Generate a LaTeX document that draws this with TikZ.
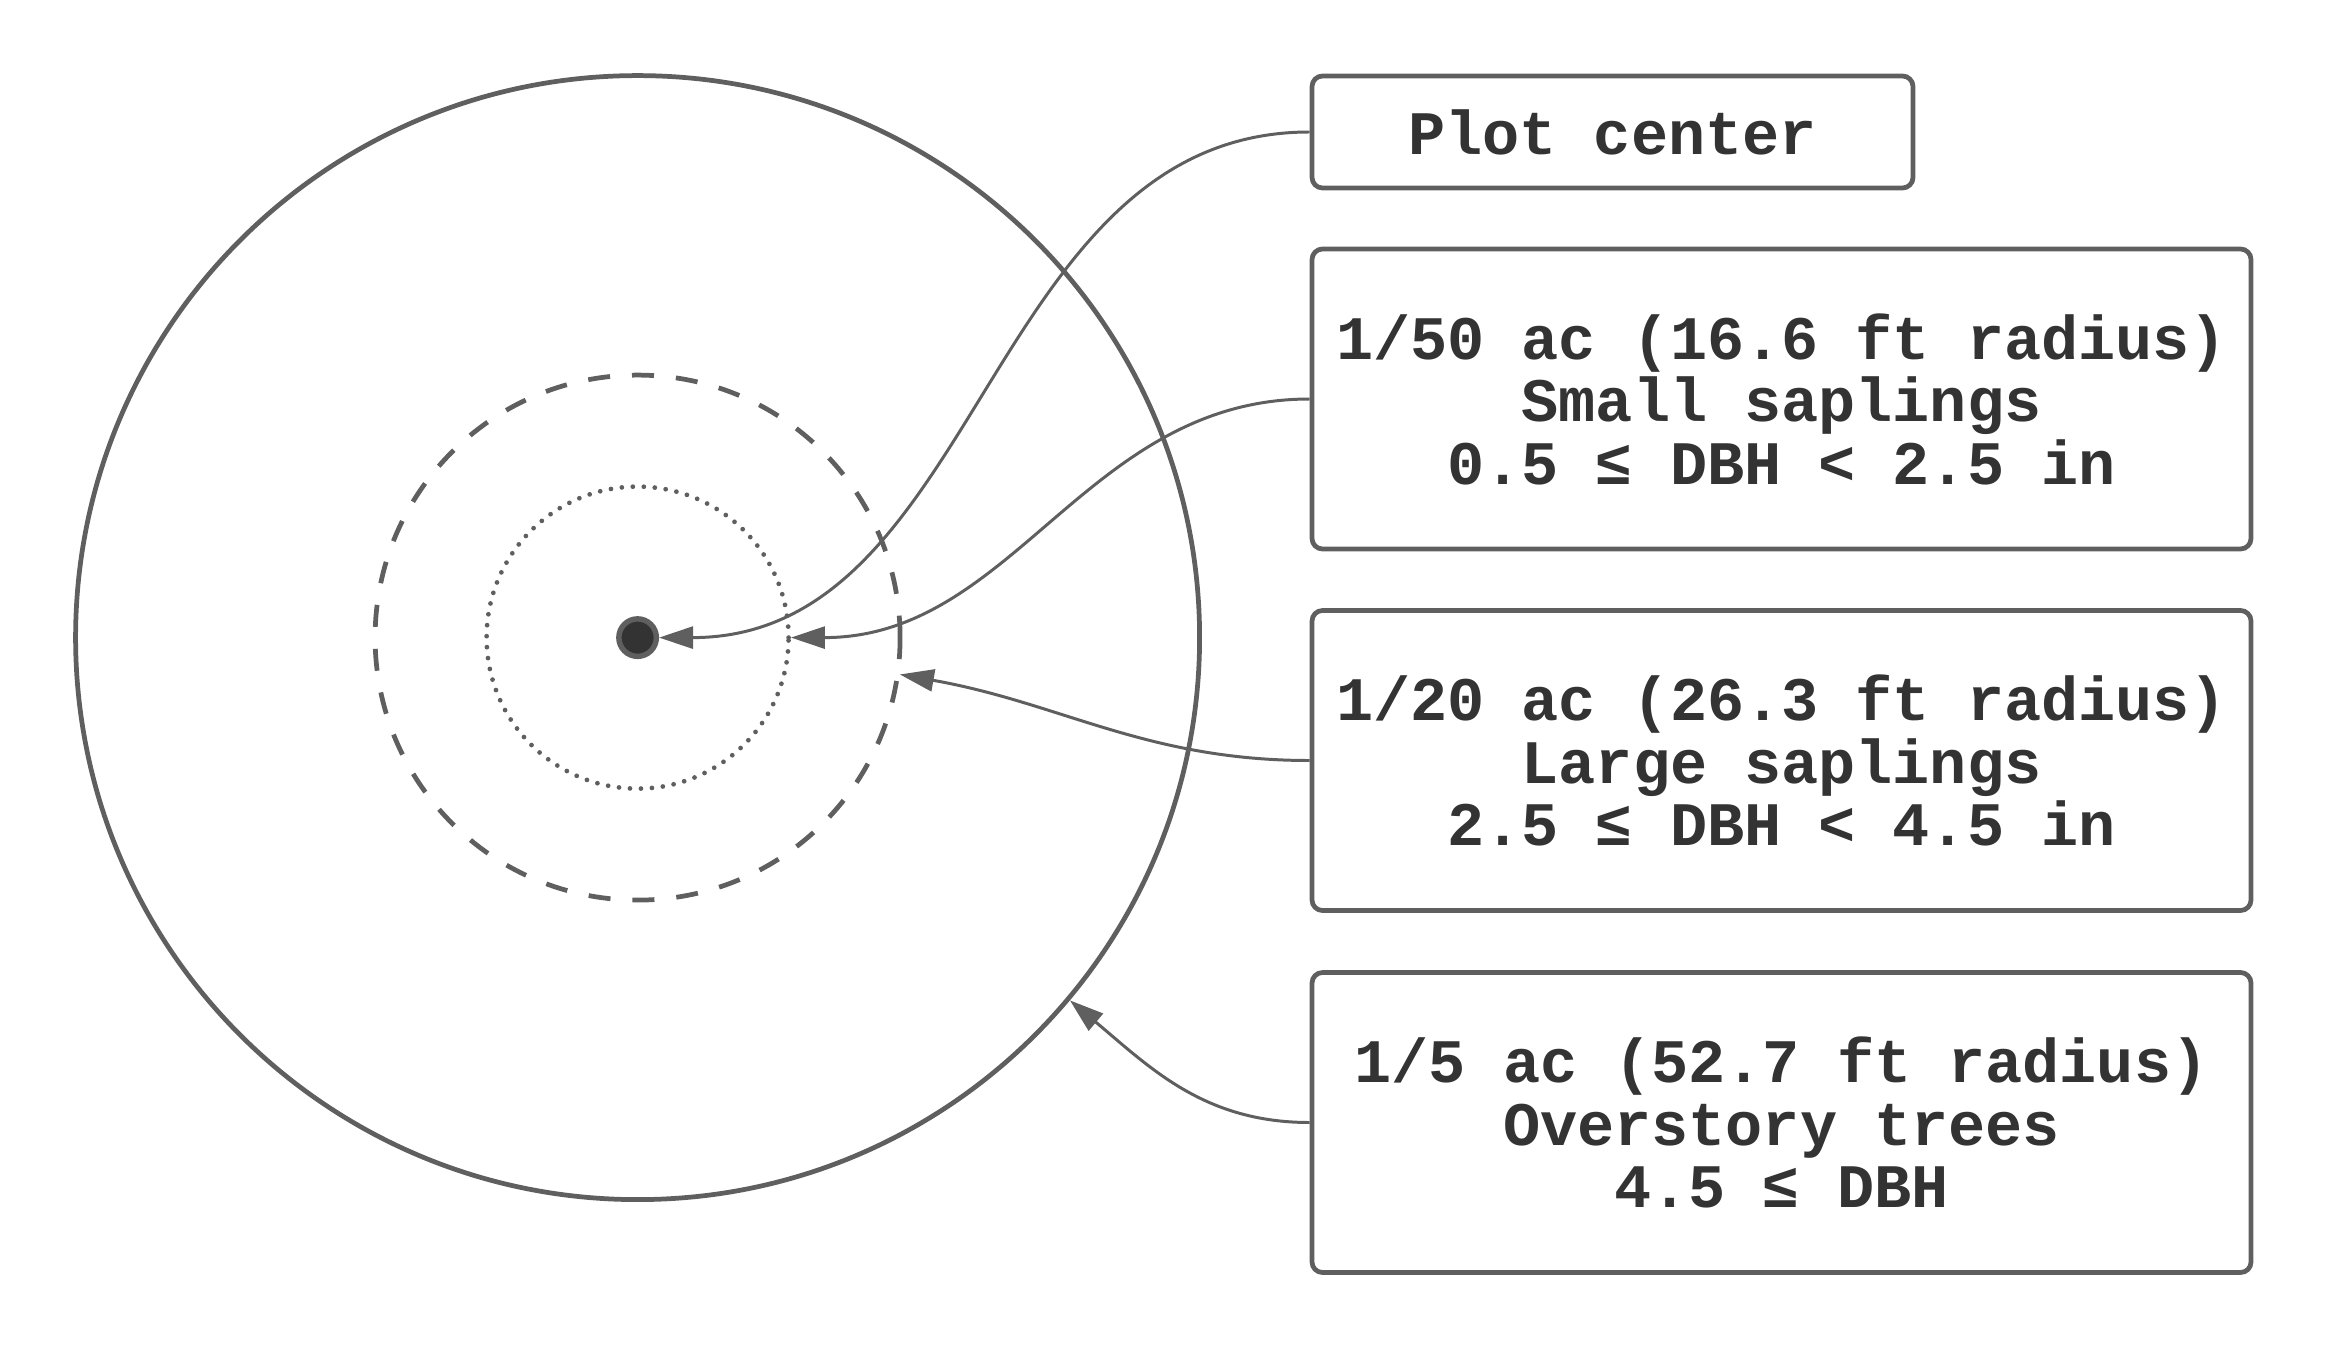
\documentclass[tikz,border=0pt]{standalone}
\usepackage{fontspec}
\setmonofont{Liberation Mono}
\usetikzlibrary{positioning, arrows.meta}
\definecolor{plotline}{HTML}{5F5F5F}
\definecolor{plottext}{HTML}{333333}

\begin{document}
\begin{tikzpicture}[font=\ttfamily\bfseries\fontsize{17.6}{17.8}\selectfont,
    ring/.style={circle, draw=plotline, line width=1.35pt, inner sep=0pt},
    labelbox/.style={draw=plotline, line width=1.35pt, rounded corners=3pt, text=plottext,
          align=center, minimum width=9.39cm, minimum height=3cm, inner sep=0pt},
    pointer/.style={-{Triangle[length=3.4mm, width=2.2mm]}, color=plotline, line width=0.85pt}]
    \useasboundingbox (-6.376,-7.104) rectangle (16.874,6.376);

    % plot rings
    \node[ring, minimum size=11.24cm] (outer) at (0,0) {};
    \node[ring, dash pattern=on 0.22cm off 0.22cm, minimum size=5.25cm] (large) at (0,0) {};
    \node[ring, line cap=round, dash pattern=on 0pt off 0.11cm, minimum size=3.02cm] (small) at (0,0) {};
    \node[ring, fill=plottext, line width=1.55pt, minimum size=0.375cm] (center) at (0,0) {};

    % labels
    \node[labelbox, minimum width=6.01cm, minimum height=1.12cm] (plotlbl) at (9.749,5.056) {Plot center};
    \node[labelbox] (smalllbl) at (11.439,2.386)
          {1/50 ac (16.6 ft radius)\\Small saplings\\0.5 ≤ DBH < 2.5 in};
    \node[labelbox] (largelbl) at (11.439,-1.229)
          {1/20 ac (26.3 ft radius)\\Large saplings\\2.5 ≤ DBH < 4.5 in};
    \node[labelbox] (overlbl) at (11.439,-4.849)
          {1/5 ac (52.7 ft radius)\\Overstory trees\\4.5 ≤ DBH};

    \draw[pointer] (plotlbl.west) to[out=180, in=0] (center);
    \draw[pointer] (smalllbl.west) to[out=180, in=0] (small.east);
    \draw[pointer] (largelbl.west) to[out=180, in=-10] (large.-8);
    \draw[pointer] (overlbl.west) to[out=180, in=-40] (outer.-40);
  \end{tikzpicture}
\end{document}
